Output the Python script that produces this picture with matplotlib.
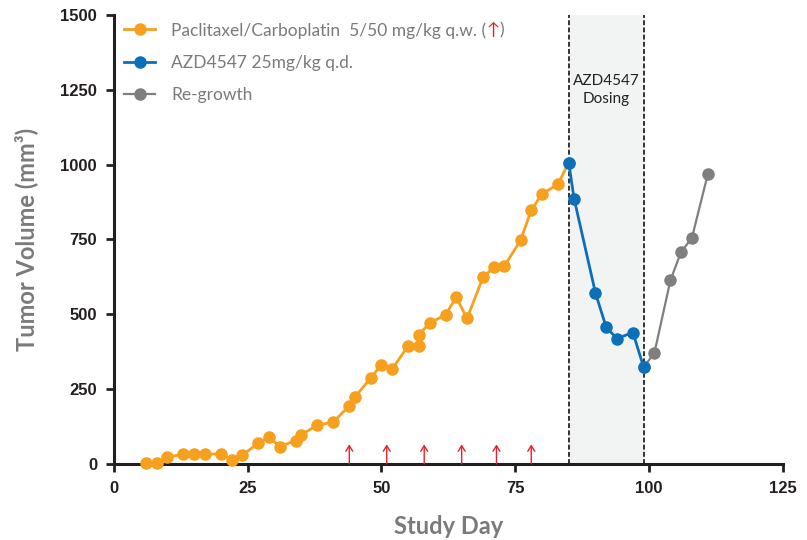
import matplotlib
matplotlib.use("Agg")
import matplotlib.pyplot as plt

# Paclitaxel/Carboplatin phase
pc_days = [6, 8, 10, 13, 15, 17, 20, 22, 24, 27, 29, 31, 34, 35, 38, 41, 44, 45,
           48, 50, 52, 55, 57, 57, 59, 62, 64, 66, 69, 71, 73, 76, 78, 80, 83, 85]
pc_vol = [2, 2, 22, 33, 33, 33, 33, 13, 29, 69, 89, 58, 78, 97, 129, 140, 194, 222,
          287, 331, 317, 394, 394, 432, 470, 499, 557, 486, 624, 657, 662, 747, 848,
          902, 935, 1007]

# AZD4547 dosing phase
azd_days = [85, 86, 90, 92, 94, 97, 99]
azd_vol = [1007, 887, 571, 457, 419, 439, 323]

# Re-growth phase
rg_days = [99, 101, 104, 106, 108, 111]
rg_vol = [323, 370, 613, 709, 754, 969]

# weekly chemo doses (red arrows)
dose_days = [44, 51, 58, 65, 71.5, 78]

dosing_start, dosing_end = 85, 99

orange = "#f6a01d"
blue = "#0b6fba"
grey = "#7f7f7f"
label_grey = "#7a7a7a"
axis_black = "#231f20"

fig = plt.figure(figsize=(8.07, 5.40), dpi=100)
ax = fig.add_axes([0.141, 0.141, 0.829, 0.831])

ax.axvspan(dosing_start, dosing_end, color="#f2f4f4", zorder=0)
for d in (dosing_start, dosing_end):
    ax.axvline(d, color="#333333", lw=1.4, ls=(0, (2.5, 1.2)), zorder=1)

ax.text((dosing_start + dosing_end) / 2, 1250, "AZD4547\nDosing", ha="center",
        va="center", fontsize=11, family="Lato", color="#222222",
        linespacing=1.3)

ax.plot(pc_days, pc_vol, "-o", color=orange, lw=2, ms=8, clip_on=False, zorder=3,
        label="Paclitaxel/Carboplatin  5/50 mg/kg q.w. (")
ax.plot(rg_days, rg_vol, "-o", color=grey, lw=1.6, ms=8, clip_on=False, zorder=3,
        label="Re-growth")
ax.plot(azd_days, azd_vol, "-o", color=blue, lw=2, ms=8, clip_on=False, zorder=4,
        label="AZD4547 25mg/kg q.d.")

for d in dose_days:
    ax.annotate("", xy=(d, 65), xytext=(d, 0),
                arrowprops=dict(arrowstyle="->,head_width=0.25,head_length=0.4",
                                color="#e8202a", lw=1.0, shrinkA=0, shrinkB=0))

ax.set_xlim(0, 125)
ax.set_ylim(0, 1500)
ax.set_xticks([0, 25, 50, 75, 100, 125])
ax.set_yticks([0, 250, 500, 750, 1000, 1250, 1500])

for s in ("top", "right"):
    ax.spines[s].set_visible(False)
for s in ("left", "bottom"):
    ax.spines[s].set_linewidth(2.2)
    ax.spines[s].set_color(axis_black)
ax.tick_params(width=2, length=6, color=axis_black, direction="out", pad=6)
for lab in ax.get_xticklabels() + ax.get_yticklabels():
    lab.set_fontfamily("Liberation Sans")
    lab.set_fontweight("bold")
    lab.set_fontsize(12)
    lab.set_color(axis_black)

ax.set_xlabel("Study Day", fontsize=17, fontweight="bold", family="Lato",
              color=label_grey, labelpad=14)
ax.set_ylabel("Tumor Volume (mm\u00b3)", fontsize=17, fontweight="bold", family="Lato",
              color=label_grey, labelpad=16)

handles, labels = ax.get_legend_handles_labels()
order = [0, 2, 1]
leg = ax.legend([handles[i] for i in order], [labels[i] for i in order],
                loc="upper left", bbox_to_anchor=(0.0, 1.008), frameon=False,
                prop={"family": "Lato", "size": 12.5}, handlelength=1.8,
                labelspacing=0.95, handletextpad=0.9, borderaxespad=0.2)
for t in leg.get_texts():
    t.set_color(label_grey)

# red arrow inside the first legend entry, then closing parenthesis
fig.canvas.draw()
first = leg.get_texts()[0]
bb = first.get_window_extent()
arr = fig.text(bb.x1 / fig.bbox.width, bb.y0 / fig.bbox.height, "\u2191",
               ha="left", va="bottom", fontsize=12.5, family="Lato", color="#e8202a")
fig.canvas.draw()
bb2 = arr.get_window_extent()
fig.text(bb2.x1 / fig.bbox.width, bb.y0 / fig.bbox.height, ")",
         ha="left", va="bottom", fontsize=12.5, family="Lato", color=label_grey)

fig.savefig("out.png", dpi=100)
